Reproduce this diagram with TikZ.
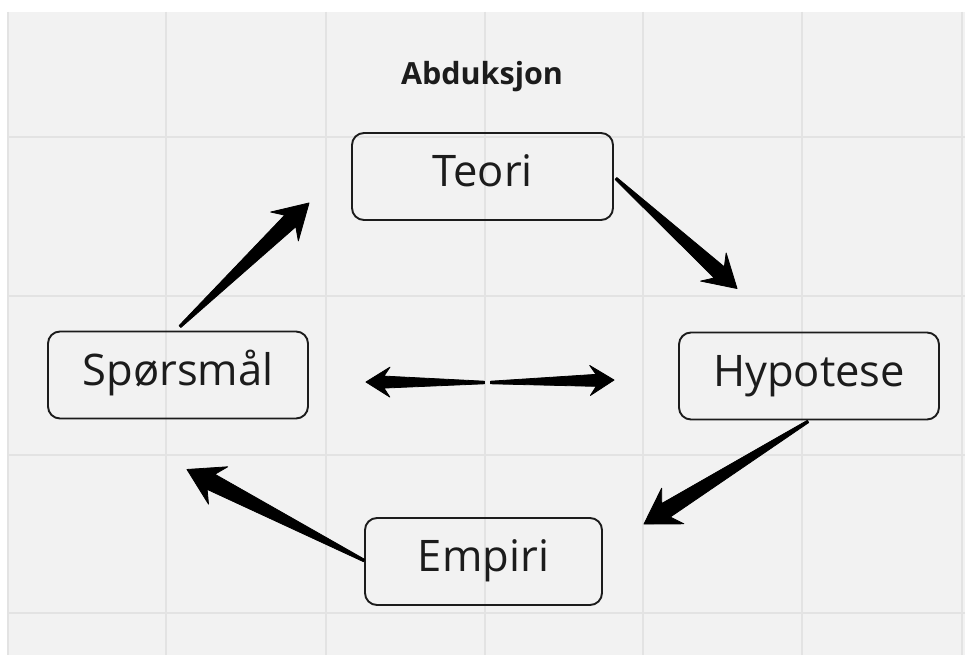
\documentclass[tikz,border=0pt]{standalone}
\usepackage{fontspec}
\setmainfont{Open Sans}
\usetikzlibrary{calc}
\definecolor{bggray}{HTML}{F2F2F2}
\definecolor{gridgray}{HTML}{E3E3E3}
\definecolor{ink}{HTML}{1C1C1C}
\tikzset{
  box/.style={draw=ink, line width=1.9pt, rounded corners=12pt, inner sep=0pt,
    minimum width=260pt, minimum height=87pt, text=ink,
    font=\fontsize{43.5}{50}\selectfont, text height=31pt, text depth=11pt},
  titlestyle/.style={font=\fontsize{30.5}{36}\selectfont\bfseries, text=ink, inner sep=0pt},
  arrowink/.style={fill=black, draw=black, line width=0.8pt, line join=round},
  gridline/.style={draw=gridgray, line width=1.2pt}
}
\newcommand{\taperarrow}[6]{%
  \coordinate (tS) at (#1);
  \coordinate (tE) at (#2);
  \coordinate (tB) at ($(tE)!#3!(tS)$);
  \coordinate (tJ) at ($(tE)!#6!(tS)$);
  \fill[arrowink] ($(tS)!1.3pt!90:(tE)$) -- ($(tJ)!#5!90:(tE)$) -- ($(tB)!#4!90:(tE)$) -- (tE)
    -- ($(tB)!#4!-90:(tE)$) -- ($(tJ)!#5!-90:(tE)$) -- ($(tS)!1.3pt!-90:(tE)$) -- cycle;
}
\begin{document}
\begin{tikzpicture}[x=1pt,y=-1pt]
\useasboundingbox (0,0) rectangle (965,655);
\fill[white] (0,0) rectangle (965,655);
\fill[bggray] (8,12) rectangle (965,655);
\foreach \gx in {8,166,326,485,643,802,962} \draw[gridline] (\gx,12) -- (\gx,655);
\foreach \gy in {137,296,455,613} \draw[gridline] (8,\gy) -- (965,\gy);

\node[titlestyle, anchor=base] (title) at (482,85) {Abduksjon};

\node[box, minimum width=261pt] (T) at (482.5,176.5) {Teori};
\node[box] (Sp) at (178,375) {Spørsmål};
\node[box] (H) at (809,376) {Hypotese};
\node[box, minimum width=237pt] (E) at (483.5,561.5) {Empiri};

% connector end points
\coordinate (a1s) at ($(Sp.north)+(2,-4)$);
\coordinate (a1e) at ($(T.south west)+(-42,-18)$);
\coordinate (a2s) at ($(T.east)+(2,2)$);
\coordinate (a2e) at ($(H.north west)+(59,-43)$);
\coordinate (a3s) at ($(H.south)+(-1,1)$);
\coordinate (a3e) at ($(E.north east)+(41,7)$);
\coordinate (a4s) at ($(E.west)+(0,-1)$);
\coordinate (a4e) at ($(Sp.south)+(9,50)$);
\coordinate (mid) at ($(Sp.east)!0.5!(H.west)$);
\coordinate (dls) at ($(mid)+(-9,7)$);
\coordinate (dle) at ($(Sp.east)+(57,7)$);
\coordinate (drs) at ($(mid)+(-3,7)$);
\coordinate (dre) at ($(H.west)+(-64,4)$);

\taperarrow{a1s}{a1e}{34pt}{20pt}{8pt}{26pt}
\taperarrow{a2s}{a2e}{32pt}{19pt}{7.5pt}{24pt}
\taperarrow{a3s}{a3e}{34pt}{21pt}{8pt}{26pt}
\taperarrow{a4s}{a4e}{35pt}{21pt}{8.5pt}{27pt}
\taperarrow{dls}{dle}{24pt}{15pt}{6pt}{18pt}
\taperarrow{drs}{dre}{24pt}{15pt}{6pt}{18pt}
\end{tikzpicture}
\end{document}
